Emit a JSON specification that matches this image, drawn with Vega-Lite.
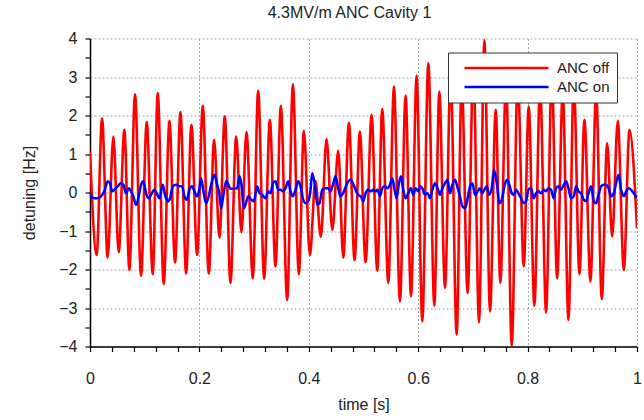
{
  "$schema": "https://vega.github.io/schema/vega-lite/v6.json",
  "width": 547,
  "height": 308,
  "autosize": {"type": "none"},
  "padding": {"left": 90, "top": 38.5, "right": 7, "bottom": 73.5},
  "background": "white",
  "title": {"text": "4.3MV/m ANC Cavity 1", "font": "Liberation Sans", "fontSize": 16, "fontWeight": "normal", "color": "#222", "anchor": "middle", "offset": 10, "dx": -14},
  "config": {"view": {"stroke": null}},
  "datasets": {
    "off": [
      {"t":0.0,"v":1.05},{"t":0.0122,"v":-1.62},{"t":0.022,"v":1.93},{"t":0.0323,"v":-1.69},{"t":0.0427,"v":1.45},{"t":0.0525,"v":-1.55},{"t":0.0628,"v":1.63},{"t":0.072,"v":-2.01},{"t":0.0823,"v":2.55},{"t":0.0933,"v":-2.16},
      {"t":0.1037,"v":1.83},{"t":0.1147,"v":-2.12},{"t":0.1238,"v":2.58},{"t":0.1348,"v":-2.38},{"t":0.1452,"v":1.86},{"t":0.1555,"v":-1.82},{"t":0.1653,"v":2.09},{"t":0.1757,"v":-2.1},{"t":0.1854,"v":1.76},{"t":0.1958,"v":-1.62},
      {"t":0.2062,"v":2.25},{"t":0.2171,"v":-2.1},{"t":0.2269,"v":1.37},{"t":0.2367,"v":-1.17},{"t":0.2464,"v":1.98},{"t":0.2568,"v":-2.35},{"t":0.2672,"v":1.45},{"t":0.2769,"v":-1.03},{"t":0.2861,"v":1.57},{"t":0.2977,"v":-2.23},
      {"t":0.3074,"v":2.64},{"t":0.3184,"v":-2.24},{"t":0.3288,"v":1.89},{"t":0.3391,"v":-1.92},{"t":0.3489,"v":2.25},{"t":0.3605,"v":-2.8},{"t":0.3709,"v":2.81},{"t":0.3818,"v":-2.12},{"t":0.391,"v":1.6},{"t":0.402,"v":-1.63},
      {"t":0.412,"v":0.3},{"t":0.4221,"v":-1.15},{"t":0.4324,"v":1.39},{"t":0.443,"v":-0.97},{"t":0.4538,"v":1.08},{"t":0.463,"v":-1.69},{"t":0.4733,"v":1.81},{"t":0.4837,"v":-1.76},{"t":0.4934,"v":1.58},{"t":0.5038,"v":-1.81},
      {"t":0.5148,"v":2.02},{"t":0.5252,"v":-2.03},{"t":0.5343,"v":2.17},{"t":0.5453,"v":-2.35},{"t":0.5557,"v":2.75},{"t":0.5666,"v":-2.83},{"t":0.577,"v":2.52},{"t":0.5868,"v":-2.7},{"t":0.5971,"v":3.04},{"t":0.6075,"v":-3.35},
      {"t":0.6185,"v":3.36},{"t":0.6295,"v":-2.94},{"t":0.6386,"v":2.62},{"t":0.649,"v":-2.48},{"t":0.6593,"v":3.1},{"t":0.6703,"v":-3.7},{"t":0.6795,"v":2.9},{"t":0.6904,"v":-2.61},{"t":0.7008,"v":3.3},{"t":0.7112,"v":-3.37},
      {"t":0.721,"v":3.96},{"t":0.7313,"v":-3.09},{"t":0.7417,"v":2.15},{"t":0.7502,"v":-2.35},{"t":0.7606,"v":2.9},{"t":0.771,"v":-3.98},{"t":0.782,"v":3.0},{"t":0.7929,"v":-1.92},{"t":0.8021,"v":2.23},{"t":0.8124,"v":-2.94},
      {"t":0.8228,"v":2.8},{"t":0.8338,"v":-3.12},{"t":0.8442,"v":3.1},{"t":0.8539,"v":-2.23},{"t":0.8643,"v":2.6},{"t":0.8747,"v":-3.31},{"t":0.8844,"v":2.9},{"t":0.8948,"v":-2.12},{"t":0.9039,"v":1.89},{"t":0.9149,"v":-2.31},
      {"t":0.9253,"v":2.6},{"t":0.9356,"v":-2.77},{"t":0.9454,"v":1.28},{"t":0.9546,"v":-1.14},{"t":0.9649,"v":1.86},{"t":0.9759,"v":-2.01},{"t":0.9863,"v":1.63},{"t":1.0,"v":-0.93}
    ],
    "on": [
      {"t":0.0,"v":-0.06},{"t":0.0079,"v":-0.15},{"t":0.014,"v":-0.15},{"t":0.0201,"v":-0.1},{"t":0.0262,"v":0.03},{"t":0.0323,"v":0.29},{"t":0.0366,"v":0.24},{"t":0.0403,"v":0.03},{"t":0.0445,"v":0.07},{"t":0.0506,"v":0.16},
      {"t":0.0567,"v":0.24},{"t":0.061,"v":0.2},{"t":0.0659,"v":-0.02},{"t":0.0708,"v":0.11},{"t":0.075,"v":0.03},{"t":0.0793,"v":-0.1},{"t":0.0842,"v":-0.32},{"t":0.0891,"v":-0.1},{"t":0.0933,"v":0.2},{"t":0.0976,"v":0.29},
      {"t":0.1025,"v":-0.02},{"t":0.1074,"v":-0.15},{"t":0.1116,"v":-0.06},{"t":0.1177,"v":0.07},{"t":0.122,"v":-0.02},{"t":0.1269,"v":-0.15},{"t":0.133,"v":0.2},{"t":0.1378,"v":-0.1},{"t":0.1421,"v":-0.23},{"t":0.1464,"v":-0.15},
      {"t":0.1513,"v":0.16},{"t":0.1574,"v":0.2},{"t":0.1635,"v":0.16},{"t":0.1683,"v":0.16},{"t":0.1726,"v":-0.1},{"t":0.1769,"v":-0.19},{"t":0.1818,"v":0.07},{"t":0.1866,"v":0.16},{"t":0.1909,"v":0.03},{"t":0.1958,"v":-0.1},
      {"t":0.2001,"v":0.11},{"t":0.2031,"v":0.37},{"t":0.2074,"v":0.03},{"t":0.2123,"v":-0.28},{"t":0.2171,"v":-0.1},{"t":0.2214,"v":0.2},{"t":0.2275,"v":0.46},{"t":0.2318,"v":0.24},{"t":0.2367,"v":-0.06},{"t":0.2397,"v":-0.41},
      {"t":0.244,"v":-0.06},{"t":0.2489,"v":0.29},{"t":0.2507,"v":0.27},{"t":0.2568,"v":0.1},{"t":0.2629,"v":0.1},{"t":0.269,"v":0.11},{"t":0.2733,"v":0.42},{"t":0.2769,"v":0.2},{"t":0.2812,"v":-0.41},{"t":0.2842,"v":-0.32},
      {"t":0.2891,"v":-0.1},{"t":0.2952,"v":-0.19},{"t":0.2995,"v":-0.23},{"t":0.3056,"v":0.16},{"t":0.3098,"v":-0.02},{"t":0.3147,"v":-0.06},{"t":0.3208,"v":-0.15},{"t":0.3257,"v":0.03},{"t":0.33,"v":-0.02},{"t":0.3343,"v":0.24},
      {"t":0.3391,"v":0.29},{"t":0.344,"v":0.07},{"t":0.3483,"v":0.07},{"t":0.3526,"v":0.03},{"t":0.3574,"v":0.11},{"t":0.3623,"v":0.29},{"t":0.3666,"v":0.03},{"t":0.3708,"v":-0.1},{"t":0.3757,"v":0.07},{"t":0.3806,"v":0.29},
      {"t":0.3849,"v":0.16},{"t":0.3891,"v":-0.15},{"t":0.394,"v":-0.28},{"t":0.3989,"v":-0.23},{"t":0.4032,"v":0.07},{"t":0.4062,"v":0.5},{"t":0.4111,"v":0.2},{"t":0.4154,"v":-0.32},{"t":0.4196,"v":-0.28},{"t":0.4245,"v":0.07},
      {"t":0.4294,"v":0.11},{"t":0.4355,"v":0.11},{"t":0.4398,"v":0.03},{"t":0.444,"v":0.2},{"t":0.4489,"v":0.42},{"t":0.4538,"v":0.11},{"t":0.4581,"v":-0.1},{"t":0.4642,"v":0.03},{"t":0.4703,"v":0.24},{"t":0.4764,"v":0.33},
      {"t":0.4806,"v":0.24},{"t":0.4855,"v":0.07},{"t":0.4904,"v":-0.06},{"t":0.4953,"v":-0.1},{"t":0.4995,"v":-0.23},{"t":0.5038,"v":-0.02},{"t":0.5087,"v":0.07},{"t":0.5136,"v":0.03},{"t":0.5178,"v":0.07},{"t":0.5221,"v":0.03},
      {"t":0.5258,"v":0.07},{"t":0.53,"v":-0.1},{"t":0.5343,"v":0.11},{"t":0.5392,"v":0.16},{"t":0.5441,"v":0.11},{"t":0.5483,"v":0.2},{"t":0.5526,"v":0.37},{"t":0.5563,"v":0.11},{"t":0.5605,"v":-0.15},{"t":0.5648,"v":0.24},
      {"t":0.5685,"v":0.42},{"t":0.5727,"v":0.07},{"t":0.577,"v":-0.15},{"t":0.5819,"v":-0.02},{"t":0.5868,"v":0.11},{"t":0.591,"v":-0.06},{"t":0.5953,"v":0.11},{"t":0.6002,"v":0.03},{"t":0.6032,"v":0.16},{"t":0.6075,"v":0.11},
      {"t":0.6124,"v":-0.06},{"t":0.6173,"v":-0.02},{"t":0.6215,"v":-0.15},{"t":0.6258,"v":0.07},{"t":0.6307,"v":0.24},{"t":0.6356,"v":0.11},{"t":0.6398,"v":-0.06},{"t":0.6441,"v":0.11},{"t":0.649,"v":0.24},{"t":0.6538,"v":0.33},
      {"t":0.6581,"v":-0.02},{"t":0.6624,"v":0.2},{"t":0.6673,"v":0.33},{"t":0.6722,"v":0.11},{"t":0.6764,"v":-0.1},{"t":0.6807,"v":-0.36},{"t":0.6856,"v":-0.41},{"t":0.6904,"v":-0.15},{"t":0.6947,"v":0.16},{"t":0.699,"v":0.24},
      {"t":0.7039,"v":-0.06},{"t":0.7087,"v":0.03},{"t":0.713,"v":0.11},{"t":0.7173,"v":-0.02},{"t":0.7209,"v":0.07},{"t":0.7252,"v":0.16},{"t":0.7295,"v":-0.06},{"t":0.7344,"v":0.11},{"t":0.7385,"v":0.59},{"t":0.7441,"v":0.2},
      {"t":0.7484,"v":-0.28},{"t":0.7527,"v":-0.19},{"t":0.7575,"v":0.16},{"t":0.7624,"v":0.33},{"t":0.7667,"v":0.2},{"t":0.771,"v":-0.02},{"t":0.7746,"v":-0.06},{"t":0.7789,"v":0.07},{"t":0.7832,"v":-0.02},{"t":0.788,"v":-0.15},
      {"t":0.7929,"v":-0.28},{"t":0.7972,"v":-0.23},{"t":0.8015,"v":0.07},{"t":0.8063,"v":0.11},{"t":0.8112,"v":-0.15},{"t":0.8155,"v":-0.02},{"t":0.8198,"v":0.03},{"t":0.8247,"v":-0.02},{"t":0.8295,"v":0.07},{"t":0.8338,"v":0.03},
      {"t":0.8381,"v":0.11},{"t":0.8429,"v":0.07},{"t":0.8478,"v":-0.15},{"t":0.8521,"v":0.11},{"t":0.8564,"v":0.16},{"t":0.8612,"v":0.07},{"t":0.8661,"v":0.2},{"t":0.8704,"v":0.29},{"t":0.8747,"v":0.11},{"t":0.8795,"v":-0.15},
      {"t":0.8844,"v":-0.1},{"t":0.8887,"v":0.16},{"t":0.893,"v":0.03},{"t":0.8978,"v":-0.02},{"t":0.9027,"v":-0.19},{"t":0.907,"v":-0.23},{"t":0.9113,"v":-0.02},{"t":0.9161,"v":0.16},{"t":0.921,"v":-0.23},{"t":0.9253,"v":-0.28},
      {"t":0.9296,"v":-0.06},{"t":0.9344,"v":0.16},{"t":0.9393,"v":0.2},{"t":0.9436,"v":0.2},{"t":0.9479,"v":0.11},{"t":0.9527,"v":-0.1},{"t":0.9576,"v":-0.02},{"t":0.9619,"v":0.24},{"t":0.9662,"v":0.46},{"t":0.971,"v":0.07},
      {"t":0.9759,"v":-0.1},{"t":0.9802,"v":0.03},{"t":0.9845,"v":0.11},{"t":0.9893,"v":0.07},{"t":0.9942,"v":-0.02},{"t":1.0,"v":-0.15}
    ]
  },
  "encoding": {
    "x": {
      "field": "t", "type": "quantitative",
      "scale": {"domain": [0, 1], "nice": false, "zero": false},
      "axis": {
        "title": "time [s]",
        "values": [0,0.04,0.08,0.12,0.16,0.2,0.24,0.28,0.32,0.36,0.4,0.44,0.48,0.52,0.56,0.6,0.64,0.68,0.72,0.76,0.8,0.84,0.88,0.92,0.96,1],
        "format": "~g",
        "labelExpr": "abs(datum.value*5 - round(datum.value*5)) < 0.001 ? datum.label : ''",
        "labelOverlap": false, "labelFlush": false,
        "labelFont": "Liberation Sans", "labelFontSize": 16, "labelColor": "#222", "labelPadding": 19,
        "titleFont": "Liberation Sans", "titleFontSize": 16, "titleFontWeight": "normal", "titleColor": "#222", "titlePadding": 10,
        "grid": true,
        "gridOpacity": {"condition": {"test": "abs(datum.value*5 - round(datum.value*5)) < 0.001", "value": 1}, "value": 0},
        "gridColor": "#a8a8a8", "gridDash": [2, 2], "gridWidth": 1,
        "domainColor": "#000", "domainWidth": 1.5, "tickColor": "#000", "tickWidth": 1.2, "tickSize": 5
      }
    },
    "y": {
      "field": "v", "type": "quantitative",
      "scale": {"domain": [-4, 4], "nice": false, "zero": false},
      "axis": {
        "title": "detuning [Hz]",
        "values": [-4,-3.5,-3,-2.5,-2,-1.5,-1,-0.5,0,0.5,1,1.5,2,2.5,3,3.5,4],
        "format": "~g",
        "labelExpr": "datum.value % 1 == 0 ? datum.label : ''",
        "labelOverlap": false, "labelFlush": false,
        "labelFont": "Liberation Sans", "labelFontSize": 16, "labelColor": "#222", "labelPadding": 8,
        "titleFont": "Liberation Sans", "titleFontSize": 16, "titleFontWeight": "normal", "titleColor": "#222", "titlePadding": 21,
        "grid": true,
        "gridOpacity": {"condition": {"test": "datum.value % 1 == 0", "value": 1}, "value": 0},
        "gridColor": "#a8a8a8", "gridDash": [2, 2], "gridWidth": 1,
        "domainColor": "#000", "domainWidth": 1.5, "tickColor": "#000", "tickWidth": 1.2, "tickSize": 5
      }
    },
    "color": {
      "field": "s", "type": "nominal",
      "scale": {"domain": ["ANC off", "ANC on"], "range": ["#ff0000", "#0000ff"]},
      "legend": {
        "orient": "none", "legendX": 358, "legendY": 14, "title": null,
        "symbolType": "M-1,0H11", "symbolSize": 196, "symbolStrokeWidth": 2.5, "symbolOffset": 8,
        "labelOffset": 77, "labelFont": "Liberation Sans", "labelFontSize": 15, "labelColor": "#222",
        "labelExpr": "datum.label + '\u00a0\u00a0\u00a0\u00a0'",
        "padding": 7, "rowPadding": 2, "strokeColor": "#333", "fillColor": "white"
      }
    }
  },
  "layer": [
    {
      "data": {"name": "off"},
      "transform": [{"calculate": "'ANC off'", "as": "s"}],
      "mark": {"type": "line", "strokeWidth": 2.6, "interpolate": "monotone", "clip": true}
    },
    {
      "data": {"name": "on"},
      "transform": [{"calculate": "'ANC on'", "as": "s"}],
      "mark": {"type": "line", "strokeWidth": 2.5, "interpolate": "monotone", "clip": true}
    }
  ]
}
